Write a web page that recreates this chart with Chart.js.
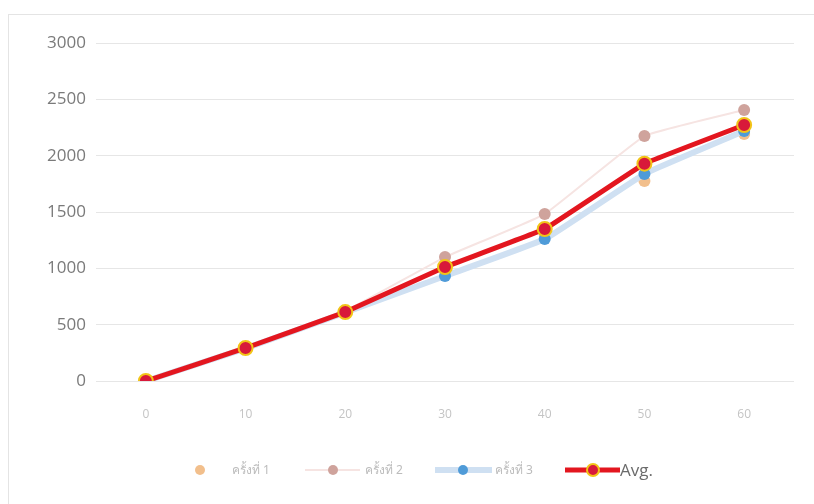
<!DOCTYPE html>
<html>
<head>
<meta charset="utf-8">
<script src="https://cdn.jsdelivr.net/npm/chart.js@4"></script>
<style>
    html, body { margin: 0; padding: 0; background: #ffffff; }
    #wrap { width: 814px; height: 504px; position: relative; }
</style>
</head>
<body>
<div id="wrap"><canvas id="avgChart" width="814" height="504"></canvas></div>
<script>
// ================================================================
// DATA
// ================================================================

const categories = ['0', '10', '20', '30', '40', '50', '60'];
const round1 = [0, 290, 605, 1004, 1305, 1775, 2193];
const round2 = [0, 298, 622, 1100, 1482, 2174, 2405];
const round3 = [0, 290, 608, 932, 1260, 1837, 2218];
const average = [0, 293, 612, 1012, 1349, 1929, 2272];
const yTicks = [0, 500, 1000, 1500, 2000, 2500, 3000];

const seriesLabels = ['ครั้งที่ 1', 'ครั้งที่ 2', 'ครั้งที่ 3', 'Avg.'];

// ================================================================
// LEGEND PLUGIN (line + marker + label, like the spreadsheet legend)
// ================================================================

const legendItems = [
    { from: 0, to: 0, marker: 200, text: 232 },
    { from: 305, to: 360, marker: 333, text: 365 },
    { from: 435, to: 492, marker: 463, text: 495 },
    { from: 565, to: 620, marker: 593, text: 620 }
];

const sheetLegend = {
    id: 'sheetLegend',
    afterDraw(chart) {
        const ctx = chart.ctx;
        const y = 470;
        chart.data.datasets.forEach((ds, i) => {
            const item = legendItems[i];
            ctx.save();
            if (item.to > item.from) {
                ctx.strokeStyle = ds.borderColor;
                ctx.lineWidth = ds.borderWidth;
                ctx.beginPath();
                ctx.moveTo(item.from, y);
                ctx.lineTo(item.to, y);
                ctx.stroke();
            }
            ctx.beginPath();
            ctx.arc(item.marker, y, ds.pointRadius - 1, 0, Math.PI * 2);
            ctx.fillStyle = ds.pointBackgroundColor;
            ctx.fill();
            if (ds.pointBorderWidth > 0) {
                ctx.lineWidth = ds.pointBorderWidth;
                ctx.strokeStyle = ds.pointBorderColor;
                ctx.stroke();
            }
            const isAvg = i === 3;
            ctx.font = isAvg ? '17px "Open Sans", sans-serif' : '12px "Noto Sans", "DejaVu Sans", sans-serif';
            ctx.fillStyle = isAvg ? '#6b6b6b' : '#bcbcbc';
            ctx.textBaseline = 'middle';
            ctx.textAlign = 'left';
            ctx.fillText(ds.label, item.text, y + 1);
            ctx.restore();
        });
    }
};

const frame = {
    id: 'frame',
    beforeDraw(chart) {
        const ctx = chart.ctx;
        ctx.save();
        ctx.strokeStyle = '#e4e4e4';
        ctx.lineWidth = 1;
        ctx.strokeRect(8.5, 14.5, 820, 500);
        ctx.restore();
    }
};

// ================================================================
// CHART
// ================================================================

new Chart(document.getElementById('avgChart'), {
    type: 'line',
    data: {
        labels: categories,
        datasets: [
            {
                label: seriesLabels[0],
                data: round1,
                showLine: false,
                borderColor: '#f3c494',
                borderWidth: 0,
                pointRadius: 6,
                pointBackgroundColor: '#f2bf8c',
                pointBorderWidth: 0,
                order: 3
            },
            {
                label: seriesLabels[1],
                data: round2,
                borderColor: '#f6e4e2',
                borderWidth: 2,
                pointRadius: 6,
                pointBackgroundColor: '#cfa39c',
                pointBorderWidth: 0,
                tension: 0.1,
                order: 2
            },
            {
                label: seriesLabels[2],
                data: round3,
                borderColor: '#cfe0f2',
                borderWidth: 6,
                pointRadius: 6,
                pointBackgroundColor: '#4f9bd8',
                pointBorderWidth: 0,
                tension: 0.1,
                order: 1
            },
            {
                label: seriesLabels[3],
                data: average,
                borderColor: '#e3161f',
                borderWidth: 5,
                pointRadius: 7,
                pointBackgroundColor: '#d8193a',
                pointBorderColor: '#f2c418',
                pointBorderWidth: 2,
                tension: 0.05,
                order: 0
            }
        ]
    },
    options: {
        responsive: false,
        animation: false,
        layout: { padding: { top: 43, right: 20, left: 0, bottom: 0 } },
        plugins: {
            legend: { display: false },
            tooltip: { enabled: false }
        },
        scales: {
            x: {
                offset: true,
                grid: { display: false, drawTicks: false },
                border: { display: false },
                ticks: {
                    padding: 26,
                    color: '#c4c4c4',
                    font: { family: '"Open Sans", sans-serif', size: 12 }
                },
                afterFit(scale) { scale.height = 123; }
            },
            y: {
                min: 0,
                max: 3000,
                afterBuildTicks(scale) { scale.ticks = yTicks.map(v => ({ value: v })); },
                grid: { color: '#e6e6e6', lineWidth: 1, drawTicks: false },
                border: { display: false },
                ticks: {
                    padding: 10,
                    color: '#7a7a7a',
                    font: { family: '"Open Sans", sans-serif', size: 17 },
                    callback: value => String(value)
                },
                afterFit(scale) { scale.width = 96; }
            }
        }
    },
    plugins: [frame, sheetLegend]
});
</script>
</body>
</html>
